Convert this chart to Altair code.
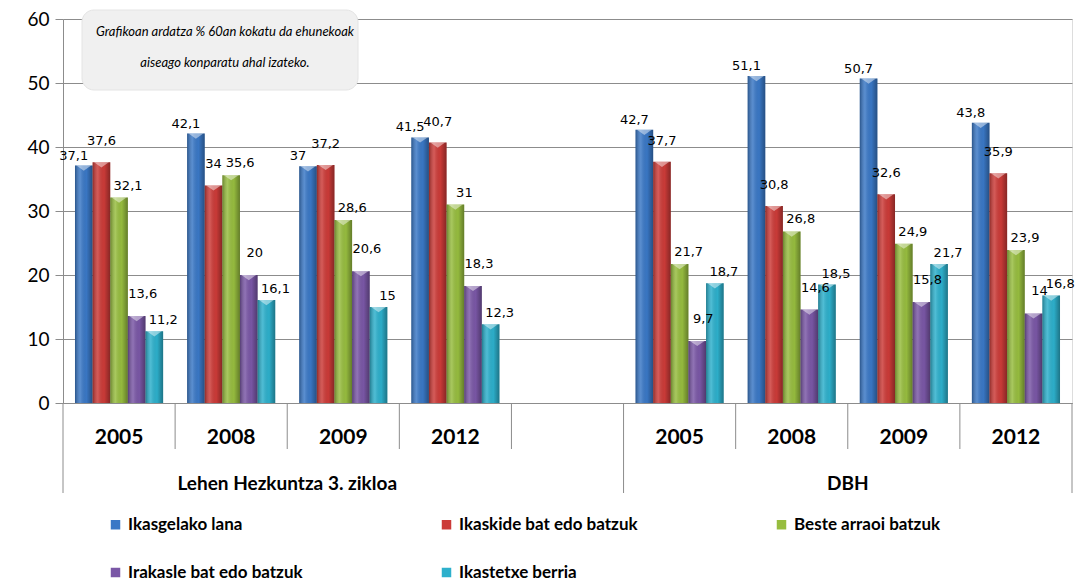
import altair as alt
import pandas as pd

SERIES = ["Ikasgelako lana", "Ikaskide bat edo batzuk", "Beste arraoi batzuk",
          "Irakasle bat edo batzuk", "Ikastetxe berria"]
COLORS = ["#3a78c6", "#cc3b38", "#97bd3f", "#7a57a6", "#2db0cc"]
SLOTS = ["L2005", "L2008", "L2009", "L2012", "gap", "D2005", "D2008", "D2009", "D2012"]
DATA_SLOTS = ["L2005", "L2008", "L2009", "L2012", "D2005", "D2008", "D2009", "D2012"]

IKASGELAKO = [37.1, 42.1, 37, 41.5, 42.7, 51.1, 50.7, 43.8]
IKASKIDE = [37.6, 34, 37.2, 40.7, 37.7, 30.8, 32.6, 35.9]
BESTE = [32.1, 35.6, 28.6, 31, 21.7, 26.8, 24.9, 23.9]
IRAKASLE = [13.6, 20, 20.6, 18.3, 9.7, 14.6, 15.8, 14]
IKASTETXE = [11.2, 16.1, 15, 12.3, 18.7, 18.5, 21.7, 16.8]

GROUPS = ["Lehen Hezkuntza 3. zikloa", "DBH"]
GROUP_ANCHORS = ["L2008", "D2008"]
SHORT_DIVIDERS = ["L2008", "L2009", "L2012", "gap", "D2008", "D2009", "D2012"]
LONG_DIVIDERS_START = ["L2005", "D2005"]
LONG_DIVIDERS_END = ["D2012"]
NOTE_LINES = ["Grafikoan ardatza % 60an kokatu da ehunekoak",
              "aiseago konparatu ahal izateko."]

# label offsets (style) per series: (dx, dy)
LABEL_OFFSETS = [(-10, -3), (0, -14), (9, -5), (6, -15), (9, -4)]

W, H = 1009, 384
FONT = "Lato, 'Open Sans', sans-serif"

rows = []
for s, vals in zip(SERIES, [IKASGELAKO, IKASKIDE, BESTE, IRAKASLE, IKASTETXE]):
    for slot, v in zip(DATA_SLOTS, vals):
        rows.append({"slot": slot, "series": s, "value": v,
                     "label": f"{v:g}".replace(".", ",")})
df = pd.DataFrame(rows)

x_enc = alt.X("slot:N", scale=alt.Scale(domain=SLOTS, paddingInner=0, paddingOuter=0),
              sort=SLOTS,
              axis=alt.Axis(title=None, ticks=False,
                            labelExpr="datum.value == 'gap' ? '' : substring(datum.value, 1)",
                            labelFont=FONT, labelFontSize=21, labelFontWeight="bold",
                            labelColor="#000", labelPadding=34, labelBaseline="middle",
                            domainColor="#8c8c8c", labelAngle=0))
xo_enc = alt.XOffset("series:N", scale=alt.Scale(domain=SERIES, paddingInner=0, paddingOuter=0.68))
y_enc = alt.Y("value:Q", scale=alt.Scale(domain=[0, 60], nice=False),
              axis=alt.Axis(title=None, values=[0, 10, 20, 30, 40, 50, 60],
                            gridColor="#8c8c8c", domainColor="#8c8c8c", tickColor="#8c8c8c",
                            tickSize=8, labelFont=FONT, labelFontSize=19, labelColor="#000",
                            labelPadding=6))

base = alt.Chart(df)

bars = base.mark_bar().encode(
    x=x_enc, xOffset=xo_enc, y=y_enc,
    color=alt.Color("series:N", scale=alt.Scale(domain=SERIES, range=COLORS),
                    legend=alt.Legend(title=None, orient="none", legendX=44, legendY=497,
                                      direction="horizontal", columns=3,
                                      columnPadding=135, rowPadding=30,
                                      symbolType="square", symbolSize=90, symbolStrokeWidth=0,
                                      labelFont=FONT, labelFontSize=17, labelFontWeight="bold",
                                      labelColor="#000", labelLimit=400, labelOffset=4)),
)

shade = base.mark_bar(fill={
    "gradient": "linear", "x1": 0, "y1": 0, "x2": 1, "y2": 0,
    "stops": [{"offset": 0, "color": "rgba(0,0,0,0.30)"},
              {"offset": 0.3, "color": "rgba(255,255,255,0.16)"},
              {"offset": 0.65, "color": "rgba(0,0,0,0.02)"},
              {"offset": 1, "color": "rgba(0,0,0,0.34)"}]}).encode(
    x="slot:N", xOffset="series:N", y="value:Q")

caps = base.mark_point(shape="M-0.85,0L0.85,0L0,0.6Z", filled=True, fill="white",
                       opacity=0.45, size=300, strokeWidth=0).encode(
    x="slot:N", xOffset="series:N", y="value:Q")

label_layers = []
for s, (dx, dy) in zip(SERIES, LABEL_OFFSETS):
    label_layers.append(
        base.transform_filter(alt.datum.series == s).mark_text(
            font="'DejaVu Sans', sans-serif", fontSize=13, color="#000",
            baseline="bottom", dx=dx, dy=dy).encode(
            x="slot:N", xOffset="series:N", y="value:Q", text="label:N"))

short_div = alt.Chart(pd.DataFrame({"slot": SHORT_DIVIDERS})).mark_rule(color="#8c8c8c").encode(
    x=alt.X("slot:N", bandPosition=0), y=alt.value(H), y2=alt.value(H + 46))
long_div_a = alt.Chart(pd.DataFrame({"slot": LONG_DIVIDERS_START})).mark_rule(color="#8c8c8c").encode(
    x=alt.X("slot:N", bandPosition=0), y=alt.value(H), y2=alt.value(H + 90))
long_div_b = alt.Chart(pd.DataFrame({"slot": LONG_DIVIDERS_END})).mark_rule(color="#8c8c8c").encode(
    x=alt.X("slot:N", bandPosition=1), y=alt.value(H), y2=alt.value(H + 90))

group_text = alt.Chart(pd.DataFrame({"slot": GROUP_ANCHORS, "name": GROUPS})).mark_text(
    font=FONT, fontSize=19, fontWeight="bold", color="#000", baseline="middle").encode(
    x=alt.X("slot:N", bandPosition=1), y=alt.value(H + 81), text="name:N")

note_box = alt.Chart(pd.DataFrame({"k": [0]})).mark_rect(
    fill="#f0f0f0", stroke="#e4e4e4", cornerRadius=12).encode(
    x=alt.value(19), x2=alt.value(295), y=alt.value(-9), y2=alt.value(71))
note_text = alt.Chart(pd.DataFrame({"k": [0]})).mark_text(
    text=NOTE_LINES, font=FONT, fontSize=13, fontStyle="italic", color="#000",
    baseline="middle", align="center", lineHeight=31).encode(
    x=alt.value(162), y=alt.value(13))

chart = alt.layer(
    bars, shade, caps, *label_layers, short_div, long_div_a, long_div_b, group_text,
    note_box, note_text
).properties(
    width=W, height=H,
    autosize=alt.AutoSizeParams(type="none"),
    padding={"left": 55, "top": 11, "right": 8, "bottom": 183},
).configure_view(stroke=None).configure(background="white")

chart.save("out.html", embed_options={"renderer": "svg", "actions": False})
